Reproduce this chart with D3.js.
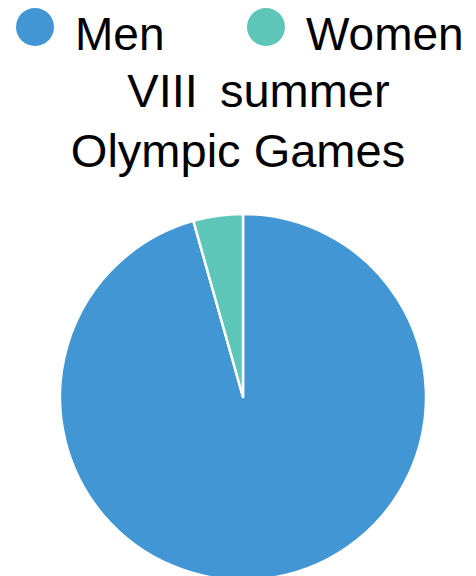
<!DOCTYPE html>
<html>
<head>
<meta charset="utf-8">
<script src="https://cdn.jsdelivr.net/npm/d3@7"></script>
<style>
html,body{margin:0;padding:0;background:#fff;}
svg{display:block;}
</style>
</head>
<body>
<svg id="chart" width="476" height="576"></svg>
<script>
const categories = ["Men", "Women"];
const values = [2954, 135];
const colors = ["#4396d4", "#5ec5b9"];
const titleLines = ["VIII summer", "Olympic Games"];

const svg = d3.select("#chart");
const font = "'Liberation Sans', Arial, sans-serif";

// Legend
const legendX = [35, 266];
const leg = svg.append("g");
categories.forEach((c, i) => {
  leg.append("circle").attr("cx", legendX[i]).attr("cy", 27).attr("r", 19).attr("fill", colors[i]);
  leg.append("text").attr("x", legendX[i] + 40).attr("y", 50)
    .attr("font-family", font).attr("font-size", 46).attr("fill", "#000").text(c);
});

// Title
const titleCx = [258.5, 238];
svg.append("g").selectAll("text").data(titleLines).join("text")
  .attr("x", (d, i) => titleCx[i]).attr("y", (d, i) => 107 + i * 60)
  .attr("text-anchor", "middle")
  .attr("font-family", font).attr("font-size", 47).attr("fill", "#000")
  .attr("word-spacing", (d, i) => i === 0 ? 9 : 0)
  .text(d => d);

// Pie
const data = categories.map((c, i) => ({ cat: c, value: values[i], color: colors[i] }));
const pie = d3.pie().value(d => d.value).sort(null);
const arc = d3.arc().innerRadius(0).outerRadius(183);
svg.append("g").attr("transform", "translate(243,397)")
  .selectAll("path").data(pie(data)).join("path")
  .attr("d", arc).attr("fill", d => d.data.color)
  .attr("stroke", "#fff").attr("stroke-width", 2.5).attr("stroke-linejoin", "round");
</script>
</body>
</html>
